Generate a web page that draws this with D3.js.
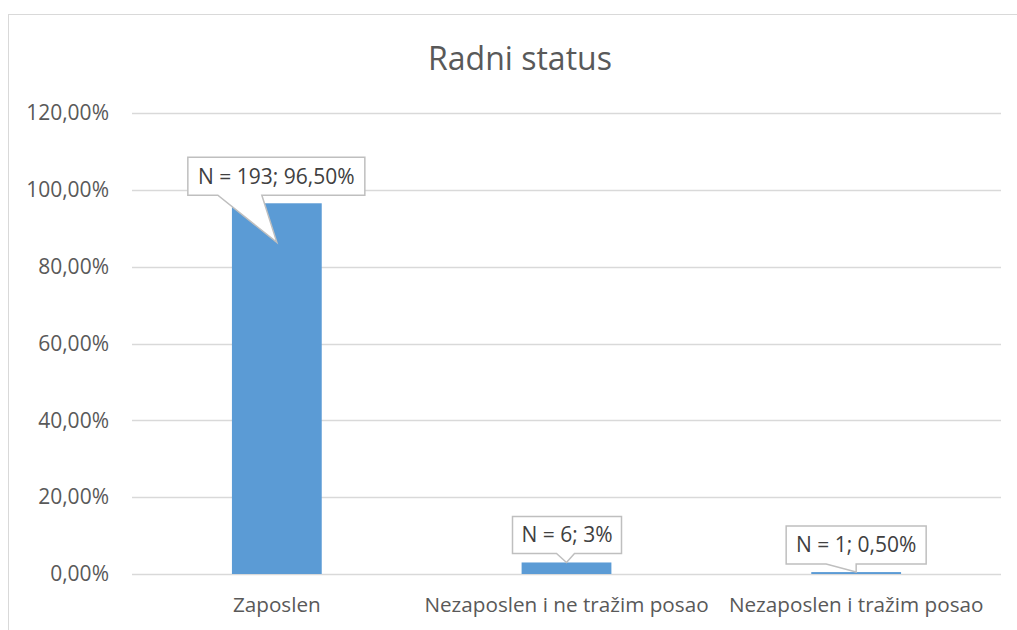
<!DOCTYPE html>
<html>
<head>
<meta charset="utf-8">
<script src="https://cdn.jsdelivr.net/npm/d3@7"></script>
<style>
  body { margin: 0; background: #fff; }
  svg { display: block; font-family: "Open Sans", sans-serif; }
</style>
</head>
<body>
<script>
const categories = ["Zaposlen", "Nezaposlen i ne tražim posao", "Nezaposlen i tražim posao"];
const values = [96.5, 3, 0.5];
const counts = [193, 6, 1];
const valueLabels = ["96,50%", "3%", "0,50%"];
const yTicks = [0, 20, 40, 60, 80, 100, 120];

const W = 1017, H = 630;
const margin = {top: 113, right: 16, bottom: 56, left: 132},
    width = W - margin.left - margin.right,
    height = H - margin.top - margin.bottom;

const svg = d3.select("body").append("svg")
  .attr("width", W)
  .attr("height", H);

// chart frame (runs off the right and bottom edge)
svg.append("rect")
  .attr("x", 8.5).attr("y", 14.5)
  .attr("width", 1040).attr("height", 660)
  .attr("fill", "#fff")
  .attr("stroke", "#d9d9d9");

svg.append("text")
  .attr("x", 520).attr("y", 70)
  .attr("text-anchor", "middle")
  .attr("font-size", 32)
  .attr("fill", "#595959")
  .text("Radni status");

const g = svg.append("g")
  .attr("transform", `translate(${margin.left},${margin.top})`);

const x = d3.scaleBand()
  .domain(categories)
  .range([0, width])
  .paddingInner(0.69)
  .paddingOuter(0.345);

const y = d3.scaleLinear()
  .domain([0, 120])
  .range([height, 0]);

const fmt = d => d3.format(".2f")(d).replace(".", ",") + "%";

// gridlines
g.append("g")
  .selectAll("line")
  .data(yTicks)
  .join("line")
  .attr("x1", 0).attr("x2", width)
  .attr("y1", d => Math.round(y(d)) + 0.5)
  .attr("y2", d => Math.round(y(d)) + 0.5)
  .attr("stroke", "#d9d9d9")
  .attr("stroke-width", 1.3);

const yAxis = g.append("g")
  .call(d3.axisLeft(y).tickValues(yTicks).tickFormat(fmt).tickSize(0).tickPadding(23));
yAxis.select(".domain").remove();
yAxis.selectAll("text")
  .attr("fill", "#595959")
  .attr("font-size", 21)
  .attr("font-family", "Open Sans, sans-serif");

g.selectAll("rect.bar")
  .data(values)
  .join("rect")
  .attr("class", "bar")
  .attr("x", (d, i) => x(categories[i]))
  .attr("y", d => y(d))
  .attr("width", x.bandwidth())
  .attr("height", d => height - y(d))
  .attr("fill", "#5b9bd5");

const xAxis = g.append("g")
  .attr("transform", `translate(0,${height})`)
  .call(d3.axisBottom(x).tickSize(0).tickPadding(23));
xAxis.select(".domain").remove();
xAxis.selectAll("text")
  .attr("fill", "#595959")
  .attr("font-size", 20.7)
  .attr("font-family", "Open Sans, sans-serif");

// callout data labels: box offset from bar top centre, pointer depth into bar
const callouts = [
  {dx: -89, dy: -46, w: 177, h: 38, base: [-59, -15], tip: 39},
  {dx: -54, dy: -46, w: 109, h: 37, base: [-10, 8], tip: 0},
  {dx: -70, dy: -46, w: 140, h: 38, base: [-30, 0], tip: 0}
];

const lab = g.selectAll("g.callout")
  .data(values)
  .join("g")
  .attr("class", "callout")
  .attr("transform", (d, i) => `translate(${x(categories[i]) + x.bandwidth() / 2},${y(d)})`);

lab.append("path")
  .attr("d", (d, i) => {
    const c = callouts[i];
    const l = c.dx, t = c.dy, r = c.dx + c.w, b = c.dy + c.h;
    return `M${l},${t}H${r}V${b}H${c.base[1]}L0,${c.tip}L${c.base[0]},${b}H${l}Z`;
  })
  .attr("fill", "#fff")
  .attr("stroke", "#bfbfbf")
  .attr("stroke-width", 1.5);

lab.append("text")
  .attr("x", (d, i) => callouts[i].dx + callouts[i].w / 2)
  .attr("y", (d, i) => callouts[i].dy + callouts[i].h / 2)
  .attr("dy", "0.35em")
  .attr("text-anchor", "middle")
  .attr("font-size", 21)
  .attr("fill", "#404040")
  .text((d, i) => `N = ${counts[i]}; ${valueLabels[i]}`);
</script>
</body>
</html>
